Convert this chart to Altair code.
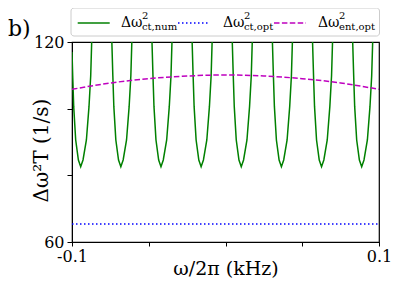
import altair as alt
import pandas as pd

# ---- data ----
num_x = [-0.1, -0.09954, -0.09889, -0.09759, -0.09583, -0.09433, -0.09283, -0.09062, -0.08893, -0.08782, -0.08717, -0.08060,
         -0.07404, -0.07339, -0.07274, -0.07144, -0.06968, -0.06818, -0.06668, -0.06447, -0.06278, -0.06167, -0.06102, -0.05445,
         -0.04789, -0.04724, -0.04659, -0.04529, -0.04353, -0.04203, -0.04053, -0.03832, -0.03663, -0.03552, -0.03487, -0.02830,
         -0.02174, -0.02109, -0.02044, -0.01914, -0.01738, -0.01588, -0.01438, -0.01217, -0.01048, -0.00937, -0.00872, -0.00215,
         0.00441, 0.00506, 0.00571, 0.00701, 0.00877, 0.01027, 0.01177, 0.01398, 0.01567, 0.01678, 0.01743, 0.02400,
         0.03056, 0.03121, 0.03186, 0.03316, 0.03492, 0.03642, 0.03792, 0.04013, 0.04182, 0.04293, 0.04358, 0.05015,
         0.05671, 0.05736, 0.05801, 0.05931, 0.06107, 0.06257, 0.06407, 0.06628, 0.06797, 0.06908, 0.06973, 0.07630,
         0.08286, 0.08351, 0.08416, 0.08546, 0.08722, 0.08872, 0.09022, 0.09243, 0.09412, 0.09523, 0.09588, 0.1]
num_y = [117, 109.8, 100.6, 90.6, 84.6, 82.6, 84.6, 90.6, 100.6, 109.8, 120, 200,
         120, 109.8, 100.6, 90.6, 84.6, 82.6, 84.6, 90.6, 100.6, 109.8, 120, 200,
         120, 109.8, 100.6, 90.6, 84.6, 82.6, 84.6, 90.6, 100.6, 109.8, 120, 200,
         120, 109.8, 100.6, 90.6, 84.6, 82.6, 84.6, 90.6, 100.6, 109.8, 120, 200,
         120, 109.8, 100.6, 90.6, 84.6, 82.6, 84.6, 90.6, 100.6, 109.8, 120, 200,
         120, 109.8, 100.6, 90.6, 84.6, 82.6, 84.6, 90.6, 100.6, 109.8, 120, 200,
         120, 109.8, 100.6, 90.6, 84.6, 82.6, 84.6, 90.6, 100.6, 109.8, 120, 200,
         120, 109.8, 100.6, 90.6, 84.6, 82.6, 84.6, 90.6, 100.6, 109.8, 120, 170]

ct_opt_x = [-0.1, 0.1]
ct_opt_y = [65.4, 65.4]

ent_x = [-0.1, -0.075, -0.05, -0.025, 0.0, 0.025, 0.05, 0.075, 0.1]
ent_y = [105.8, 107.7, 109.0, 109.8, 110.1, 109.8, 109.0, 107.7, 105.8]

x_ticks = [-0.1, -0.05, 0.0, 0.05, 0.1]
y_ticks = [60, 80, 100, 120]

legend_subs = ["ct,num", "ct,opt", "ent,opt"]
legend_colors = ["green", "blue", "#bf00bf"]
legend_dashes = [[1, 0], [1.5, 2.5], [5.5, 2.4]]

FONT = "DejaVu Serif"
W, H = 307, 200

xs = alt.Scale(domain=[-0.1, 0.1], nice=False, zero=False)
ys = alt.Scale(domain=[60, 120], nice=False, zero=False)

x_axis = alt.Axis(
    values=x_ticks,
    labelExpr="abs(datum.value) > 0.09 ? (datum.value < 0 ? '-0.1' : '0.1') : ''",
    title="ω/2π (kHz)", titleX=153.5, titleY=32, titleBaseline="alphabetic",
    titleAlign="center", titleFontSize=19, titleFont=FONT, titleFontWeight="normal",
    labelFont=FONT, labelFontSize=16, labelFlush=False, labelPadding=2,
    grid=False, tickSize=4, domainColor="black", tickColor="black",
    labelColor="black", titleColor="black",
)
y_axis = alt.Axis(
    values=y_ticks,
    labelExpr="(datum.value == 60 || datum.value == 120) ? datum.label : ''",
    title="Δω²T (1/s)", titleX=-25, titleY=108, titleAngle=270,
    titleBaseline="alphabetic", titleAlign="center", titleFontSize=20,
    titleFont=FONT, titleFontWeight="normal",
    labelFont=FONT, labelFontSize=16, labelPadding=3, labelFlush=False,
    grid=False, tickSize=5, domainColor="black", tickColor="black",
    labelColor="black", titleColor="black",
)

df_num = pd.DataFrame({"x": num_x, "y": num_y})
df_ct = pd.DataFrame({"x": ct_opt_x, "y": ct_opt_y})
df_ent = pd.DataFrame({"x": ent_x, "y": ent_y})

X = alt.X("x:Q", scale=xs, axis=x_axis)
Y = alt.Y("y:Q", scale=ys, axis=y_axis)

green = alt.Chart(df_num).mark_line(color="green", strokeWidth=1.5, clip=True).encode(x=X, y=Y)
blue = alt.Chart(df_ct).mark_line(color="blue", strokeWidth=1.5, strokeDash=[1.5, 2.5]).encode(x=X, y=Y)
mag = alt.Chart(df_ent).mark_line(color="#bf00bf", strokeWidth=1.5, strokeDash=[5.5, 2.4],
                                  interpolate="monotone").encode(x=X, y=Y)

one = pd.DataFrame({"a": [0]})
layers = [green, blue, mag]

box = alt.Chart(one).mark_rect(fill="white", stroke="#cccccc", strokeWidth=1, cornerRadius=3).encode(
    x=alt.value(-1), x2=alt.value(307.5), y=alt.value(-34), y2=alt.value(-6))
layers.append(box)

sample_x = [5.7, 106, 202]
text_x = [49, 151, 246]
for i in range(3):
    layers.append(alt.Chart(one).mark_rule(color=legend_colors[i], strokeWidth=1.5,
                                           strokeDash=legend_dashes[i]).encode(
        x=alt.value(sample_x[i]), x2=alt.value(sample_x[i] + 32), y=alt.value(-19)))
    layers.append(alt.Chart(one).mark_text(text="Δω", font=FONT, fontSize=14, align="left",
                                           baseline="alphabetic", color="black").encode(
        x=alt.value(text_x[i]), y=alt.value(-15.3)))
    layers.append(alt.Chart(one).mark_text(text="2", font=FONT, fontSize=10, align="left",
                                           baseline="alphabetic", color="black").encode(
        x=alt.value(text_x[i] + 21), y=alt.value(-23.5)))
    layers.append(alt.Chart(one).mark_text(text=legend_subs[i], font=FONT, fontSize=10, align="left",
                                           baseline="alphabetic", color="black").encode(
        x=alt.value(text_x[i] + 21), y=alt.value(-12.5)))

layers.append(alt.Chart(one).mark_text(text="b)", font=FONT, fontSize=22, align="left",
                                       baseline="alphabetic", color="black").encode(
    x=alt.value(-64), y=alt.value(-6)))

chart = alt.layer(*layers).properties(
    width=W, height=H,
    background="white",
    padding={"left": 64, "top": 34, "right": 12, "bottom": 38},
    autosize=alt.AutoSizeParams(type="none"),
).configure_view(stroke="black", strokeWidth=1.2)

chart.save("out.html", embed_options={"renderer": "svg", "actions": False})
